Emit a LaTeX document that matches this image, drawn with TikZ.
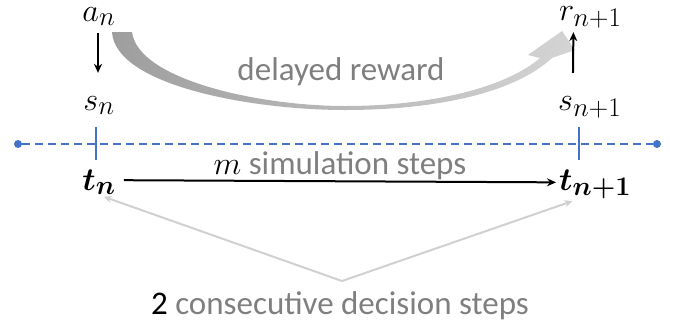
\documentclass[tikz,border=0pt]{standalone}
\usepackage{amsmath}
\usepackage{graphicx}
\usepackage{fontspec}
\setmainfont{Carlito}
\usetikzlibrary{arrows.meta}
\definecolor{txtgray}{HTML}{7F7F7F}
\definecolor{lgray}{HTML}{D0D0D0}
\definecolor{arcdark}{HTML}{9E9E9E}
\definecolor{arclight}{HTML}{D4D4D4}
\definecolor{tlblue}{HTML}{4472C4}
\newcommand{\lgmath}[1]{\scalebox{1.3}{\Huge$#1$}}
\begin{document}
\begin{tikzpicture}[x=1pt,y=-1pt,
  mathlbl/.style={inner sep=0pt},
  txtlbl/.style={inner sep=0pt,font=\fontsize{33}{40}\selectfont},
  blkarrow/.style={line width=2pt,-{Stealth[length=9pt,width=8pt]}},
  grayarrow/.style={lgray,line width=2pt,-{Stealth[length=8pt,width=7pt]}},
  bluedash/.style={tlblue,line width=2.5pt,dash pattern=on 8pt off 5pt},
  bluetick/.style={tlblue,line width=2.5pt},
  enddot/.style={circle,fill=tlblue,inner sep=0pt,minimum size=8pt}]
\useasboundingbox (0,0) rectangle (677,330);

% curved delayed-reward arrow
\shade[left color=arcdark,right color=arclight]
  (112,32) -- (132,32)
  .. controls (138,80) and (260,106) .. (345,106)
  .. controls (430,106) and (505,88) .. (540,58)
  -- (528,55) -- (562,31) -- (575,50) -- (552,58)
  .. controls (512,95) and (430,110) .. (345,110)
  .. controls (250,110) and (115,85) .. (112,32) -- cycle;

% labels
\node[mathlbl,anchor=base] (an) at (99,21) {\lgmath{a_n}};
\node[mathlbl,anchor=base] (sn) at (99,110) {\lgmath{s_n}};
\node[mathlbl,anchor=base] (tn) at (99,190) {\lgmath{\boldsymbol{t_n}}};
\node[mathlbl,anchor=base west] (rn1) at (559,20) {\lgmath{r_{n+1}}};
\node[mathlbl,anchor=base west] (sn1) at (558,110) {\lgmath{s_{n+1}}};
\node[mathlbl,anchor=base west] (tn1) at (559,190) {\lgmath{\boldsymbol{t_{n+1}}}};

\node[txtlbl,anchor=base,text=txtgray] (delay) at (341,80) {delayed reward};
\node[txtlbl,anchor=base] (msim) at (340,174) {\lgmath{m} \textcolor{txtgray}{simulation steps}};
\node[txtlbl,anchor=base] (cons) at (340,314) {2 \textcolor{txtgray}{consecutive decision steps}};

% timeline
\node[enddot] (dl) at (18,144) {};
\node[enddot] (dr) at (657,144) {};
\draw[bluedash] (dl) -- (dr);
\draw[bluetick] (96,127) -- (96,160);
\draw[bluetick] (579,127) -- (579,160);

% black arrows
\draw[blkarrow,shorten <=7pt,shorten >=23pt] ([xshift=-1pt]an.south) -- ([xshift=-1pt]sn.north);
\draw[blkarrow,shorten <=23pt,shorten >=4pt] ([xshift=-17pt]sn1.north) -- ([xshift=-17pt]rn1.south);
\draw[blkarrow,shorten <=8pt,shorten >=3pt] ([yshift=2pt]tn.east) -- ([yshift=2pt]tn1.west);

% gray arrows to decision steps
\coordinate (apex) at (342,281);
\draw[grayarrow,shorten >=5pt] (apex) -- (tn.south);
\draw[grayarrow,shorten >=5pt] (apex) -- ([xshift=-18pt]tn1.south);
\end{tikzpicture}
\end{document}
